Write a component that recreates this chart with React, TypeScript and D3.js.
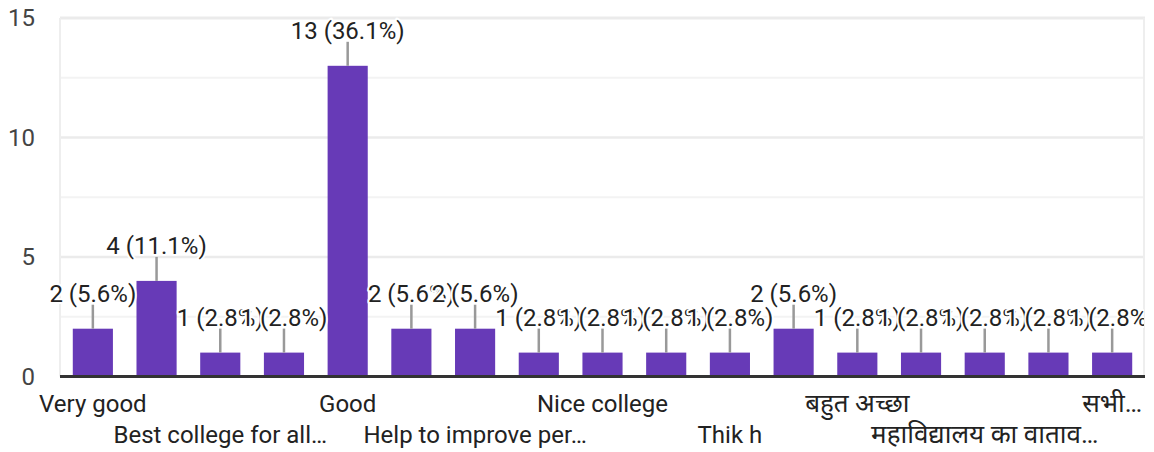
import React from "react";
import * as d3 from "d3";

const categories = [
  "Very good",
  "Option 2",
  "Best college for all…",
  "Option 4",
  "Good",
  "Option 6",
  "Help to improve per…",
  "Option 8",
  "Nice college",
  "Option 10",
  "Thik h",
  "Option 12",
  "बहुत अच्छा",
  "Option 14",
  "महाविद्यालय का वाताव…",
  "Option 16",
  "सभी…",
];
const counts = [2, 4, 1, 1, 13, 2, 2, 1, 1, 1, 1, 2, 1, 1, 1, 1, 1];
const yTicks = [0, 5, 10, 15];
const yMinorTicks = [2.5, 7.5, 12.5];

const W = 1154;
const H = 452;
const FONT = "Roboto, Arial, 'Noto Sans', 'Noto Sans Devanagari', sans-serif";
const isDevanagari = (s: string) => /[\u0900-\u097F]/.test(s);

export default function App() {
  const total = d3.sum(counts);
  const left = 61;
  const right = 1144;
  const x = d3
    .scaleBand<number>()
    .domain(categories.map((_, i) => i))
    .range([left, right])
    .paddingInner(0.37)
    .paddingOuter(0.185);
  const y = d3.scaleLinear().domain([0, 15]).range([376.5, 18]);
  const bw = x.bandwidth();

  return (
    <svg
      width={W}
      height={H}
      style={{ position: "absolute", left: 0, top: 0, background: "#fff" }}
      fontFamily={FONT}
    >
      <defs>
        <clipPath id="plotClip">
          <rect x={0} y={0} width={1144} height={H} />
        </clipPath>
      </defs>
      {/* minor gridlines */}
      {yMinorTicks.map((t) => (
        <line key={"m" + t} x1={60} x2={1145} y1={y(t)} y2={y(t)} stroke="#f3f3f3" strokeWidth={2} />
      ))}
      {/* major gridlines */}
      {yTicks.filter((t) => t > 0).map((t) => (
        <line key={"g" + t} x1={60} x2={1145} y1={y(t)} y2={y(t)} stroke="#ebebeb" strokeWidth={t === 15 ? 3 : 2.5} />
      ))}
      {/* side borders */}
      <line x1={60} x2={60} y1={y(15)} y2={y(0)} stroke="#eeeeee" strokeWidth={2} />
      <line x1={1144} x2={1144} y1={y(15)} y2={y(0)} stroke="#eeeeee" strokeWidth={2} />
      {/* y tick labels */}
      {yTicks.map((t) => (
        <text key={"yl" + t} x={35} y={y(t)} dy="0.35em" textAnchor="end" fontSize={24} fill="#444">
          {t}
        </text>
      ))}
      {/* bars */}
      {counts.map((c, i) => (
        <rect key={"b" + i} x={x(i)!} y={y(c)} width={bw} height={y(0) - y(c)} fill="#673ab7" />
      ))}
      {/* baseline */}
      <line x1={60} x2={1145} y1={y(0)} y2={y(0)} stroke="#333" strokeWidth={3} />
      {/* leader lines */}
      {counts.map((c, i) => {
        const cx = x(i)! + bw / 2;
        return (
          <line key={"l" + i} x1={cx} x2={cx} y1={y(c)} y2={y(c) - 24} stroke="#999" strokeWidth={2.5} />
        );
      })}
      {/* value labels */}
      <g clipPath="url(#plotClip)">
        {counts.map((c, i) => {
          const cx = x(i)! + bw / 2;
          const pct = ((c / total) * 100).toFixed(1);
          return (
            <text
              key={"v" + i}
              x={cx}
              y={y(c) - 27}
              textAnchor="middle"
              fontSize={24}
              fill="#222"
              stroke="#fff"
              strokeWidth={4}
              strokeLinejoin="round"
              paintOrder="stroke"
            >
              {`${c} (${pct}%)`}
            </text>
          );
        })}
      </g>
      {/* x labels */}
      {categories.map((name, i) => {
        if (i % 2 !== 0) return null;
        const row = (i / 2) % 2;
        const cx = x(i)! + bw / 2;
        return (
          <text
            key={"x" + i}
            x={cx}
            y={row === 0 ? 411.5 : 442.5}
            textAnchor="middle"
            fontSize={isDevanagari(name) ? 26 : 24}
            fill="#222"
          >
            {name}
          </text>
        );
      })}
    </svg>
  );
}
